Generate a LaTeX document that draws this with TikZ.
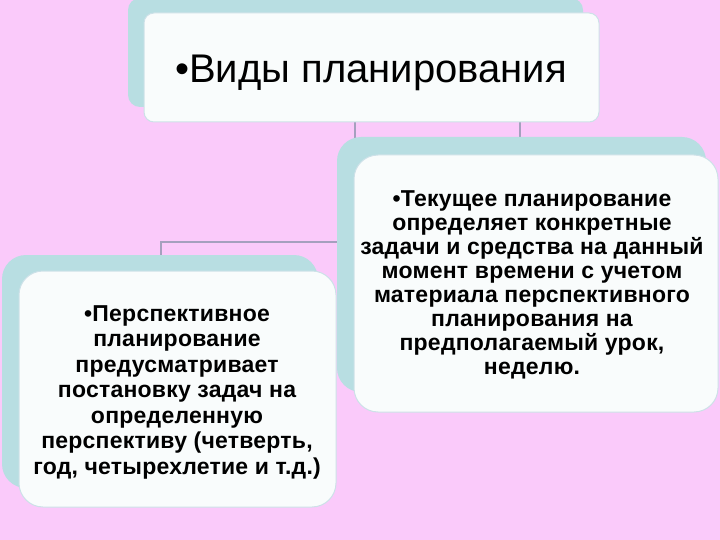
\documentclass[tikz,border=0pt]{standalone}
\usepackage{fontspec}
\setmainfont{Liberation Sans}
\newfontfamily\boldtxt[LetterSpace=1]{Liberation Sans Bold}
\definecolor{bgpink}{RGB}{250,202,250}
\definecolor{backblue}{RGB}{184,222,226}
\definecolor{frontwhite}{RGB}{249,252,252}
\definecolor{frontedge}{RGB}{205,225,232}
\definecolor{linkgray}{RGB}{165,160,190}
\tikzset{
  backbox/.style={fill=backblue, draw=none},
  frontbox/.style={fill=frontwhite, draw=frontedge, line width=1pt},
  link/.style={draw=linkgray, line width=2pt},
  smalltext/.style={align=center, inner sep=0pt}
}
\begin{document}
\begin{tikzpicture}[x=1pt,y=-1pt]
\useasboundingbox (0,0) rectangle (720,540);
\fill[bgpink] (0,0) rectangle (720,540);
% connectors
\coordinate (j1) at (355,242);
\coordinate (j2) at (161,242);
\draw[link] (355,122) -- (j1) -- (j2) -- (161,256);
\draw[link] (520,122) -- (520,140);
% top box
\draw[backbox, rounded corners=12pt] (128,-2) rectangle (583,107);
\draw[frontbox, rounded corners=10pt] (144,13) rectangle (599,122);
\node[anchor=base, inner sep=0pt] (top) at (371,83) {\fontsize{40}{44}\selectfont •Виды планирования};
% left box
\draw[backbox, rounded corners=24pt] (2,255) rectangle (318,488);
\draw[frontbox, rounded corners=24pt] (19,271) rectangle (336,507);
\node[smalltext, font=\boldtxt\fontsize{23}{25.5}\selectfont] (left) at (177,392) {•Перспективное\\планирование\\предусматривает\\постановку задач на\\определенную\\перспективу (четверть,\\год, четырехлетие и т.д.)};
% right box
\draw[backbox, rounded corners=24pt] (337,137) rectangle (706,392);
\draw[frontbox, rounded corners=24pt] (354,155) rectangle (718,412);
\node[smalltext, font=\boldtxt\fontsize{23}{24}\selectfont] (right) at (532,285) {•Текущее планирование\\определяет конкретные\\задачи и средства на данный\\момент времени с учетом\\материала перспективного\\планирования на\\предполагаемый урок,\\неделю.};
\end{tikzpicture}
\end{document}
